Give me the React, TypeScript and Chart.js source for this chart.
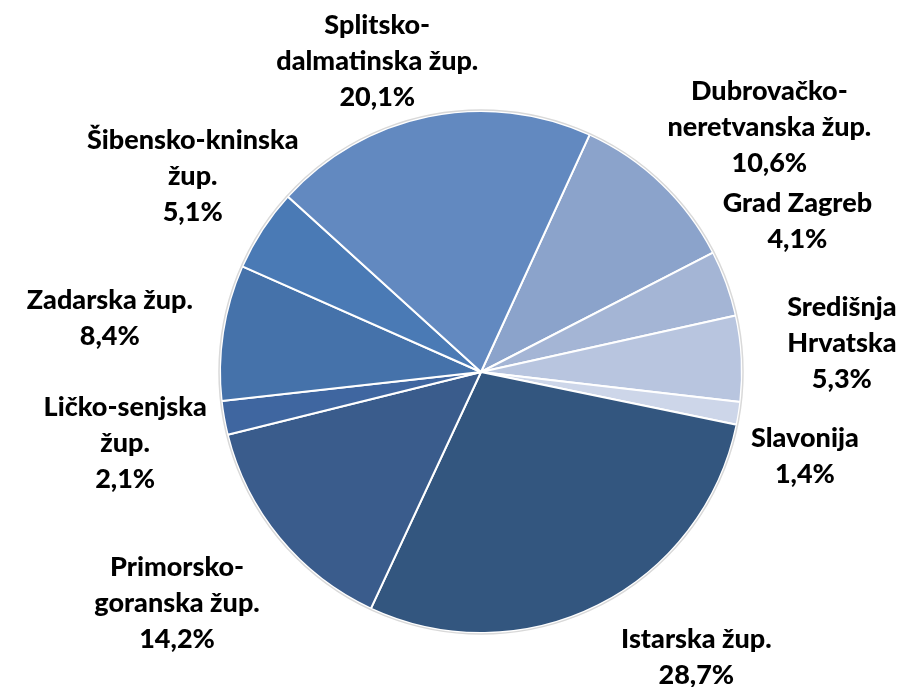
import React, { useEffect, useRef } from "react";
import { Chart, registerables } from "chart.js";

Chart.register(...registerables);

const categories = [
  "Dubrovačko-neretvanska žup.",
  "Grad Zagreb",
  "Središnja Hrvatska",
  "Slavonija",
  "Istarska žup.",
  "Primorsko-goranska žup.",
  "Ličko-senjska žup.",
  "Zadarska žup.",
  "Šibensko-kninska žup.",
  "Splitsko-dalmatinska žup.",
];

const labelLines = [
  ["Dubrovačko-", "neretvanska žup."],
  ["Grad Zagreb"],
  ["Središnja", "Hrvatska"],
  ["Slavonija"],
  ["Istarska žup."],
  ["Primorsko-", "goranska žup."],
  ["Ličko-senjska", "žup."],
  ["Zadarska žup."],
  ["Šibensko-kninska", "žup."],
  ["Splitsko-", "dalmatinska žup."],
];

const shares = [10.6, 4.1, 5.3, 1.4, 28.7, 14.2, 2.1, 8.4, 5.1, 20.1];

const colors = [
  "#8ba3cb",
  "#a4b5d5",
  "#b8c5df",
  "#cdd6e9",
  "#33567f",
  "#3a5c8c",
  "#3f66a0",
  "#4572aa",
  "#4a7ab5",
  "#6289c0",
];

// label layout nudges (pixels) relative to a point at 1.35 × radius along the slice's mid angle
const labelNudge = [
  [45, 10],
  [-15, -31],
  [9, -11],
  [-24, 28],
  [57, -29],
  [-32, 7],
  [-9, 9],
  [-23, 0],
  [7, -3],
  [-33, 34],
];

const FONT = "900 27px Lato";
const LINE_H = 36;

const labelPlugin = {
  id: "outerLabels",
  afterDatasetsDraw(chart: any) {
    const ctx = chart.ctx;
    const meta = chart.getDatasetMeta(0);
    ctx.save();
    const a0 = meta.data[0];
    if (a0) {
      ctx.beginPath();
      ctx.arc(a0.x, a0.y, a0.outerRadius + 1, 0, Math.PI * 2);
      ctx.strokeStyle = "#d9d9d9";
      ctx.lineWidth = 1.5;
      ctx.stroke();
    }
    ctx.font = FONT;
    ctx.fillStyle = "#000000";
    ctx.textAlign = "center";
    ctx.textBaseline = "middle";
    meta.data.forEach((arc: any, i: number) => {
      const mid = (arc.startAngle + arc.endAngle) / 2;
      const d = arc.outerRadius * 1.35;
      const cx = arc.x + Math.cos(mid) * d + labelNudge[i][0];
      const cy = arc.y + Math.sin(mid) * d + labelNudge[i][1];
      const lines = [...labelLines[i], shares[i].toFixed(1).replace(".", ",") + "%"];
      lines.forEach((t, k) => {
        ctx.fillText(t, cx, cy + (k - (lines.length - 1) / 2) * LINE_H);
      });
    });
    ctx.restore();
  },
};

export default function App() {
  const ref = useRef<HTMLCanvasElement>(null);
  useEffect(() => {
    document.body.style.margin = "0";
    const chart = new Chart(ref.current!, {
      type: "pie",
      data: {
        labels: categories,
        datasets: [
          {
            data: shares,
            backgroundColor: colors,
            borderColor: "#ffffff",
            borderWidth: 2,
          },
        ],
      },
      options: {
        responsive: false,
        animation: false,
        rotation: 24.6,
        layout: { padding: { left: 219, top: 110, right: 158, bottom: 53 } },
        plugins: {
          legend: { display: false },
          tooltip: { enabled: false },
        },
      },
      plugins: [labelPlugin],
    });
    return () => chart.destroy();
  }, []);
  return (
    <div style={{ position: "absolute", left: 0, top: 0, width: 901, height: 687, background: "#ffffff" }}>
      <canvas ref={ref} width={901} height={687} style={{ width: 901, height: 687 }} />
    </div>
  );
}
